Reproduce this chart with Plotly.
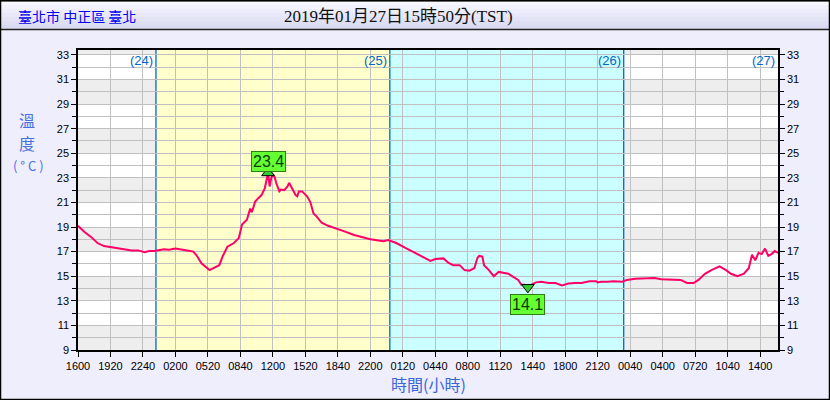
import pandas as pd
import plotly.graph_objects as go

# ---------------- data ----------------
station = "臺北市 中正區 臺北"
obs_time = "2019年01月27日15時50分(TST)"
start_time = "2019-01-24 16:00"
end_time = "2019-01-27 15:50"

# minutes elapsed since start_time
elapsed_min = [
    0, 40, 80, 120, 160, 210, 270, 330, 370, 410, 440, 470,
    530, 560, 600, 630, 660, 690, 710, 730, 760, 790, 810, 840,
    870, 890, 920, 960, 990, 1010, 1040, 1060, 1070, 1080, 1090, 1110,
    1130, 1150, 1160, 1170, 1180, 1190, 1200, 1210, 1220, 1240, 1250, 1270,
    1290, 1300, 1320, 1340, 1350, 1360, 1380, 1410, 1430, 1450, 1470, 1500,
    1540, 1590, 1640, 1700, 1750, 1800, 1850, 1880, 1910, 1960, 2010, 2070,
    2110, 2140, 2170, 2200, 2250, 2280, 2310, 2350, 2380, 2410, 2440, 2460,
    2470, 2490, 2500, 2530, 2560, 2590, 2620, 2650, 2680, 2710, 2730, 2750,
    2770, 2790, 2820, 2850, 2900, 2940, 2980, 3020, 3060, 3100, 3150, 3190,
    3200, 3220, 3260, 3300, 3350, 3380, 3430, 3490, 3550, 3590, 3650, 3710,
    3750, 3790, 3820, 3860, 3900, 3950, 3990, 4020, 4060, 4100, 4130, 4150,
    4170, 4190, 4210, 4230, 4250, 4270, 4290, 4310,
]
temps = [
    19.1, 18.6, 18.2, 17.7, 17.45, 17.35, 17.2, 17.1, 17.1, 16.95, 17.05, 17.05,
    17.2, 17.15, 17.25, 17.2, 17.1, 17.05, 17.0, 16.7, 16.05, 15.7, 15.5, 15.7,
    15.9, 16.6, 17.4, 17.7, 18.1, 19.2, 19.6, 20.5, 20.2, 20.6, 21.05, 21.35,
    21.6, 22.15, 22.8, 23.4, 22.3, 23.0, 23.3, 23.1, 22.6, 21.9, 22.05, 22.0,
    22.3, 22.6, 22.1, 21.6, 21.5, 21.9, 21.9, 21.5, 21.05, 20.1, 19.85, 19.35,
    19.1, 18.9, 18.65, 18.35, 18.15, 18.0, 17.9, 17.85, 17.95, 17.7, 17.35, 16.95,
    16.65, 16.45, 16.25, 16.4, 16.45, 16.1, 15.9, 15.9, 15.5, 15.45, 15.65, 16.5,
    16.65, 16.6, 15.9, 15.5, 15.0, 15.35, 15.3, 15.2, 14.95, 14.7, 14.3, 14.3,
    14.1, 14.3, 14.5, 14.55, 14.45, 14.45, 14.25, 14.4, 14.45, 14.45, 14.6, 14.6,
    14.5, 14.55, 14.55, 14.6, 14.55, 14.7, 14.8, 14.8, 14.85, 14.75, 14.7, 14.7,
    14.45, 14.45, 14.7, 15.2, 15.5, 15.8, 15.5, 15.2, 15.0, 15.2, 15.65, 16.75,
    16.3, 16.9, 16.8, 17.25, 16.65, 16.8, 17.05, 16.9,
]
day_starts = ["2019-01-25", "2019-01-26", "2019-01-27"]
day_labels = ["(24)", "(25)", "(26)", "(27)"]
y_min, y_max = 9, 33.4

# ---------------- figure ----------------
W, H = 830, 400
L, R, T, B = 78, 52, 50, 50
PW, PH = W - L - R, H - T - B

def px(x):
    return (x - L) / PW

def py(y):
    return (H - B - y) / PH

t0 = pd.Timestamp(start_time)
times = [t0 + pd.Timedelta(minutes=m) for m in elapsed_min]
t_end = pd.Timestamp(end_time)
day_ts = [pd.Timestamp(d) for d in day_starts]

fig = go.Figure()
fig.add_trace(go.Scatter(
    x=times, y=temps, mode="lines",
    line=dict(color="#FF0066", width=2),
    hoverinfo="skip", showlegend=False,
))
# dummy trace for right axis
fig.add_trace(go.Scatter(
    x=[times[0]], y=[temps[0]], yaxis="y2", mode="markers",
    marker=dict(opacity=0), hoverinfo="skip", showlegend=False,
))

# max / min markers
i_max = max(range(len(temps)), key=lambda i: temps[i])
i_min = min(range(len(temps)), key=lambda i: temps[i])
fig.add_trace(go.Scatter(
    x=[times[i_max]], y=[temps[i_max]], mode="markers",
    marker=dict(symbol="triangle-up", size=11, color="#33CC33",
                line=dict(color="black", width=1)),
    hoverinfo="skip", showlegend=False,
))
fig.add_trace(go.Scatter(
    x=[times[i_min]], y=[temps[i_min]], mode="markers",
    marker=dict(symbol="triangle-down", size=11, color="#33CC33",
                line=dict(color="black", width=1)),
    hoverinfo="skip", showlegend=False,
))

shapes = []
# gray stripes
v = y_min
while v < y_max:
    shapes.append(dict(type="rect", xref="paper", yref="y", x0=0, x1=1,
                       y0=v, y1=min(v + 2, y_max), fillcolor="#EEEEEE",
                       line=dict(width=0), layer="below"))
    v += 4
# day shading
shapes.append(dict(type="rect", xref="x", yref="paper", x0=day_ts[0], x1=day_ts[1],
                   y0=0, y1=1, fillcolor="#FFFFCC", line=dict(width=0), layer="below"))
shapes.append(dict(type="rect", xref="x", yref="paper", x0=day_ts[1], x1=day_ts[2],
                   y0=0, y1=1, fillcolor="#CCFFFF", line=dict(width=0), layer="below"))
# day lines
for d in day_ts:
    shapes.append(dict(type="line", xref="x", yref="paper", x0=d, x1=d, y0=0, y1=1,
                       line=dict(color="#0066CC", width=1.3), layer="between"))

# title bar gradient
grad = ["#F7F7FF", "#F2F2FD", "#EDEDFB", "#E8E8F9", "#E3E3F6", "#DFDFF4", "#DADAF2"]
y_top, y_bot = 1, 29
n = len(grad)
for k, c in enumerate(grad):
    ya = y_top + (y_bot - y_top) * k / n
    yb = y_top + (y_bot - y_top) * (k + 1) / n
    shapes.append(dict(type="rect", xref="paper", yref="paper",
                       x0=px(1), x1=px(829), y0=py(yb + 0.5), y1=py(ya),
                       fillcolor=c, line=dict(width=0), layer="above"))
shapes.append(dict(type="line", xref="paper", yref="paper", x0=px(0), x1=px(830),
                   y0=py(29.5), y1=py(29.5), line=dict(color="#222222", width=1.5)))
shapes.append(dict(type="line", xref="paper", yref="paper", x0=px(0), x1=px(830),
                   y0=py(1.5), y1=py(1.5), line=dict(color="#888888", width=1)))
# outer border
shapes.append(dict(type="rect", xref="paper", yref="paper", x0=px(0.5), x1=px(829.5),
                   y0=py(399.5), y1=py(0.5), line=dict(color="black", width=1.5)))

annotations = []
annotations.append(dict(xref="paper", yref="paper", x=px(16), y=py(16), text=station,
                        showarrow=False, xanchor="left", yanchor="middle",
                        font=dict(family="Noto Sans CJK TC", size=14, color="#0000EE")))
annotations.append(dict(xref="paper", yref="paper", x=px(398), y=py(16), text=obs_time,
                        showarrow=False, xanchor="center", yanchor="middle",
                        font=dict(family="Liberation Serif, Noto Sans CJK TC", size=17,
                                  color="#111111")))
# axis titles
ytitle_font = dict(family="Noto Sans CJK TC", size=16, color="#4A70E0")
annotations.append(dict(xref="paper", yref="paper", x=px(27), y=py(120), text="溫",
                        showarrow=False, xanchor="center", yanchor="middle",
                        font=ytitle_font))
annotations.append(dict(xref="paper", yref="paper", x=px(27), y=py(143), text="度",
                        showarrow=False, xanchor="center", yanchor="middle",
                        font=ytitle_font))
annotations.append(dict(xref="paper", yref="paper", x=px(28), y=py(165), text="( ° C )",
                        showarrow=False, xanchor="center", yanchor="middle",
                        font=dict(family="Noto Sans CJK TC", size=13, color="#4A70E0")))
annotations.append(dict(xref="paper", yref="paper", x=px(428), y=py(384), text="時間(小時)",
                        showarrow=False, xanchor="center", yanchor="middle",
                        font=dict(family="Noto Sans CJK TC", size=16, color="#3A66D8")))
# day labels
label_pos = day_ts + [t_end]
for lab, d in zip(day_labels, label_pos):
    annotations.append(dict(xref="x", yref="paper", x=d, y=py(61), text=lab,
                            showarrow=False, xanchor="right", yanchor="middle", xshift=-1,
                            font=dict(family="Liberation Sans", size=13, color="#0066CC")))
# max / min labels
annotations.append(dict(xref="x", yref="y", x=times[i_max], y=temps[i_max],
                        text=f"{temps[i_max]:.1f}", showarrow=False,
                        yanchor="bottom", yshift=1, bgcolor="#66FF33",
                        bordercolor="#2E7D10", borderwidth=1, borderpad=1,
                        font=dict(family="Liberation Sans", size=16, color="#0B3D00")))
annotations.append(dict(xref="x", yref="y", x=times[i_min], y=temps[i_min],
                        text=f"{temps[i_min]:.1f}", showarrow=False,
                        yanchor="top", yshift=-7, bgcolor="#66FF33",
                        bordercolor="#2E7D10", borderwidth=1, borderpad=1,
                        font=dict(family="Liberation Sans", size=16, color="#0B3D00")))

tickfont = dict(family="Liberation Sans", size=11, color="black")
fig.update_layout(
    width=W, height=H,
    margin=dict(l=L, r=R, t=T, b=B, pad=0),
    paper_bgcolor="#EEEEFC",
    plot_bgcolor="white",
    showlegend=False,
    shapes=shapes,
    annotations=annotations,
    xaxis=dict(
        type="date", range=[t0, t_end], tick0=t0, dtick=200 * 60 * 1000,
        tickformat="%H%M", ticks="outside", ticklen=5, tickcolor="black",
        showgrid=True, gridcolor="#C0C0C0", gridwidth=1,
        showline=True, linecolor="black", linewidth=1.5, mirror=True,
        tickfont=tickfont, zeroline=False, fixedrange=True,
    ),
    yaxis=dict(
        range=[y_min, y_max], tick0=9, dtick=2, ticks="outside", ticklen=5,
        tickcolor="black", showgrid=True, gridcolor="#C0C0C0", gridwidth=1,
        minor=dict(dtick=1, tick0=9, ticks="outside", ticklen=4, tickcolor="black",
                   showgrid=True, gridcolor="#C0C0C0", gridwidth=1),
        showline=True, linecolor="black", linewidth=1.5, zeroline=False,
        tickfont=tickfont, fixedrange=True,
    ),
    yaxis2=dict(
        overlaying="y", side="right", range=[y_min, y_max], tick0=9, dtick=2,
        ticks="outside", ticklen=5, tickcolor="black", showgrid=False,
        minor=dict(dtick=1, tick0=9, ticks="outside", ticklen=4, tickcolor="black",
                   showgrid=False),
        showline=True, linecolor="black", linewidth=1.5, zeroline=False,
        tickfont=tickfont, fixedrange=True,
    ),
)

fig.write_html(
    "out.html",
    config={"displayModeBar": False},
    post_script="document.body.style.margin='0px';document.body.style.overflow='hidden';",
)
